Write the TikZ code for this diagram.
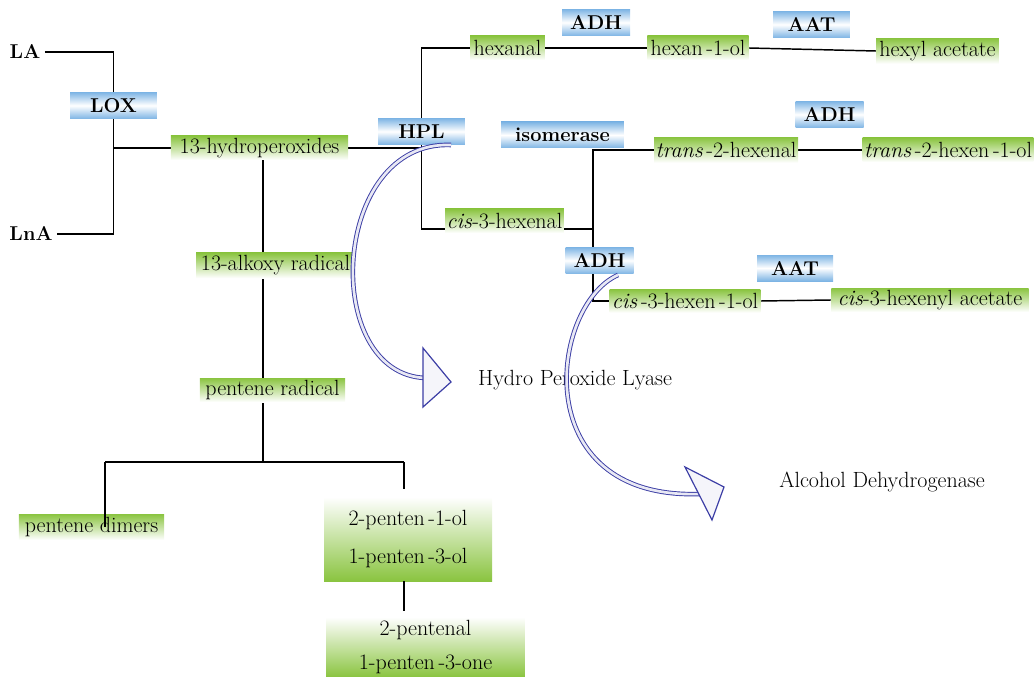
\documentclass[tikz,border=0pt]{standalone}
\usepackage{fontspec}
\setmainfont{Latin Modern Roman}
\pgfdeclarelayer{background}
\pgfsetlayers{background,main}

\begin{document}
\begin{tikzpicture}[x=0.75pt, y=-0.75pt, font=\fontsize{16.5}{19.8}\selectfont,
	enz/.style={top color=skyblue, bottom color=skyblue, middle color=white, minimum height=20pt, inner sep=0pt, font=\fontsize{15}{18}\selectfont\bfseries},
	cpd/.style={top color=leafgreen, bottom color=white, minimum height=18pt, inner sep=0pt},
	mix/.style={top color=white, bottom color=leafgreen, inner sep=0pt, align=center},
	link/.style={line width=1.1pt},
	flow/.style={draw=arrowblue, line width=0.7pt, double=arrowblue!12, double distance=2pt},
	flowhead/.style={draw=arrowblue, fill=arrowblue!5, line width=0.9pt, line join=miter}]
	\definecolor{skyblue}{RGB}{125,180,228}
	\definecolor{leafgreen}{RGB}{138,196,64}
	\definecolor{arrowblue}{RGB}{60,62,165}
	\useasboundingbox (0,0) rectangle (1034,677);
	
	% substrates and first step
	\node[font=\fontsize{15}{18}\selectfont\bfseries] (LA) at (25,52) {LA};
	\node[font=\fontsize{15}{18}\selectfont\bfseries] (LnA) at (31,234) {LnA};
	\node[enz, minimum width=65pt] (LOX) at (113.5,105.5) {LOX};
	\node[cpd, minimum width=133pt] (hpo) at (259.5,148) {13-hydroperoxides};
	\node[enz, minimum width=65pt] (HPL) at (421.5,131.5) {HPL};
	
	% hexanal branch
	\node[cpd, minimum width=56pt] (hexal) at (507.5,48) {hexanal};
	\node[enz, minimum width=51pt] (adha) at (596,22.5) {ADH};
	\node[cpd, minimum width=76pt] (hexol) at (698,48) {hexan\,-1-ol};
	\node[enz, minimum width=57.5pt] (aata) at (811.5,24.5) {AAT};
	\node[cpd, minimum width=92pt, minimum height=19pt] (hexac) at (937.5,51) {hexyl acetate};
	
	% hexenal branch
	\node[cpd, minimum width=89pt] (cisal) at (504.5,221) {\textit{cis}-3-hexenal};
	\node[enz, minimum width=92pt, minimum height=19.5pt] (iso) at (562.5,135) {isomerase};
	\node[cpd, minimum width=108pt, minimum height=19pt] (transal) at (726,150) {\textit{trans}\,-2-hexenal};
	\node[enz, minimum width=51pt] (adhb) at (829.5,114.5) {ADH};
	\node[cpd, minimum width=128pt] (transol) at (948,150) {\textit{trans}\,-2-hexen\,-1-ol};
	\node[enz, minimum width=51pt] (adhc) at (599.5,260.5) {ADH};
	\node[cpd, minimum width=113pt, minimum height=17.5pt] (cisol) at (685,301) {\textit{cis}\,-3-hexen\,-1-ol};
	\node[enz, minimum width=57pt, minimum height=19.5pt] (aatb) at (795,268) {AAT};
	\node[cpd, minimum width=148pt] (cisac) at (930,300) {\textit{cis}-3-hexenyl acetate};
	
	% pentene branch
	\node[cpd, minimum width=119pt, minimum height=19pt] (alkoxy) at (275.5,265.5) {13-alkoxy radical};
	\node[cpd, minimum width=109pt] (pentrad) at (272.5,390) {pentene radical};
	\node[cpd, minimum width=109pt, minimum height=19.5pt] (dimers) at (91.5,527) {pentene dimers};
	\node[mix, minimum width=126pt, minimum height=63pt] (pentols) at (408,539) {2-penten\,-1-ol\\[8.2pt]1-penten\,-3-ol};
	\node[mix, minimum width=149pt, minimum height=45pt] (pental) at (425.5,647) {2-pentenal\\[5.7pt]1-penten\,-3-one};
	
	\node (hpltxt) at (575,380) {Hydro Peroxide Lyase};
	\node (adhtxt) at (882,482) {Alcohol Dehydrogenase};
	
	\coordinate (jiso) at (593,301);
	\coordinate (tl) at (105,462);
	\coordinate (tr) at (404,462);
	\coordinate (t) at (263,462);
	
	\begin{pgfonlayer}{background}
		\draw[link] (LA.east) -| (LOX.north);
		\draw[link] (LnA.east) -| (LOX.south);
		\draw[link] (LOX.south |- hpo.west) -- (hpo.west);
		\draw[link] (hpo.east) -- (hpo.east -| HPL);
		\draw[link] (hexal.west) -| (HPL) |- ([yshift=-6pt]cisal.west);
		\draw[link] (hexal.east) -- (hexol.west);
		\draw[link] (hexol.east) -- (hexac.west);
		\draw[link] (transal.west) -| (jiso) -- (cisol.west);
		\draw[link] ([yshift=-6pt]cisal.east) -- ([yshift=-6pt]cisal.east -| jiso);
		\draw[link] (transal.east) -- (transol.west);
		\draw[link] (cisol.east) -- (cisac.west);
		\draw[link] (hpo.south -| t) -- (t);
	\end{pgfonlayer}
	\draw[link] (tl) -- (tr);
	\draw[link] (tl) -- (tl |- dimers);
	\draw[link, shorten >=6pt] (tr) -- (tr |- pentols.north);
	\draw[link, shorten >=4pt] (pentols.south -| tr) -- (pental.north -| tr);
	
	% enzyme arrows
	\draw[flow] (451,145) .. controls (330,140) and (320,375) .. (426,378);
	\draw[flowhead] (423,348) -- (451,382) -- (423,407) -- cycle;
	\draw[flow] (618,275) .. controls (550,305) and (525,500) .. (700,494);
	\draw[flowhead] (685,467) -- (724,487) -- (712,520) -- cycle;
\end{tikzpicture}
\end{document}
